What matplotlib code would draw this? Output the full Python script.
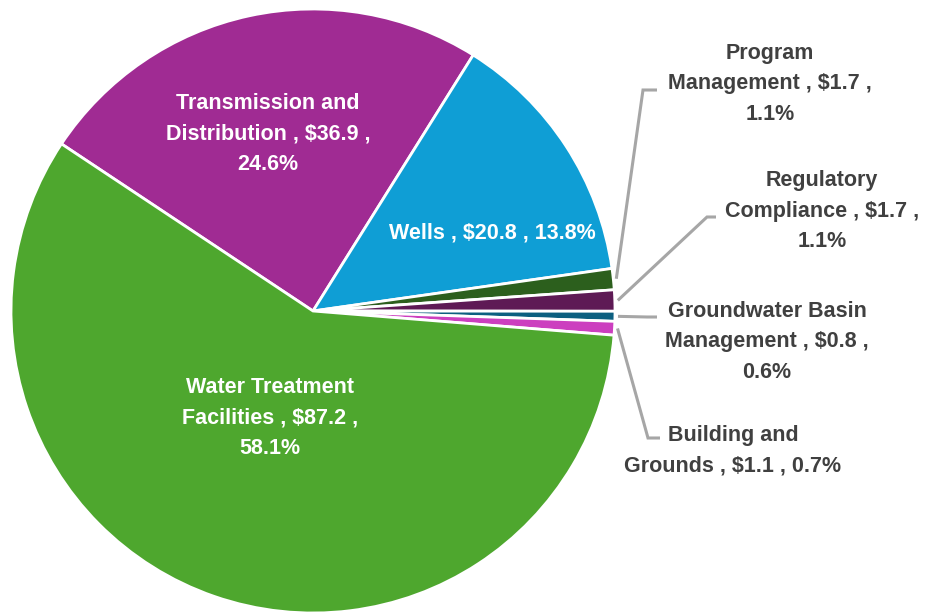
import numpy as np
import matplotlib.pyplot as plt

# capital program budget ($M)
categories = ["Transmission and\nDistribution , $36.9 ,\n24.6%",
              "Wells , $20.8 , 13.8%",
              "Program\nManagement , $1.7 ,\n1.1%",
              "Regulatory\nCompliance , $1.7 ,\n1.1%",
              "Groundwater Basin\nManagement , $0.8 ,\n0.6%",
              "Building and\nGrounds , $1.1 , 0.7%",
              "Water Treatment\nFacilities , $87.2 ,\n58.1%"]
values = [36.9, 20.8, 1.7, 1.7, 0.8, 1.1, 87.2]
colors = ["#A02B93", "#0F9ED5", "#2C5F1D", "#5E1A55", "#0C5F80", "#CC3FBF", "#4EA72E"]

W, H = 935, 614
fig = plt.figure(figsize=(W / 100, H / 100), dpi=100)
ax = fig.add_axes([0, 0, 1, 1])

cx, cy, R = 313, H - 311, 302
wedges, _ = ax.pie(values, colors=colors, startangle=146.4, counterclock=False,
                   center=(cx, cy), radius=R, frame=True,
                   wedgeprops=dict(edgecolor="white", linewidth=2))
ax.set_xlim(0, W)
ax.set_ylim(0, H)
ax.set_aspect("equal")
ax.axis("off")

font = dict(family=["Liberation Sans", "DejaVu Sans"], fontweight="bold",
            fontsize=15.5, ha="center", va="center", linespacing=1.62)

# inside labels (pixel positions, y from top)
inside = {0: (268, 134), 1: (492, 233), 6: (270, 418)}
for i, (px, py) in inside.items():
    ax.text(px, H - py, categories[i], color="white", **font)

# outside labels: elbow point, line end, text centre
outside = {2: ((643, 90), (657, 90), (770, 84)),
           3: ((707, 217), (716, 217), (822, 211)),
           4: ((647, 317), (657, 317), (767, 342)),
           5: ((648, 438), (660, 438), (733, 451))}
for i, (elbow, end, txt) in outside.items():
    w = wedges[i]
    mid = np.deg2rad((w.theta1 + w.theta2) / 2)
    sx = cx + R * 1.01 * np.cos(mid)
    sy = cy + R * 1.01 * np.sin(mid)
    ax.plot([sx, elbow[0], end[0]], [sy, H - elbow[1], H - end[1]],
            color="#A6A6A6", lw=2.2, solid_capstyle="butt", solid_joinstyle="miter")
    ax.text(txt[0], H - txt[1], categories[i], color="#404040", **font)

fig.savefig("out.png", dpi=100)
